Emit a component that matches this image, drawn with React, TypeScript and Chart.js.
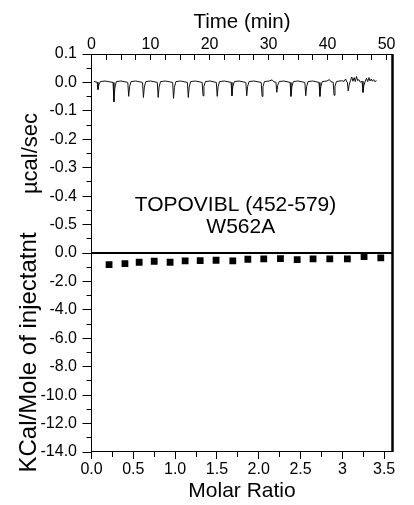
import React, { useEffect, useRef } from 'react';
import { Chart, registerables } from 'chart.js';

Chart.register(...registerables);

// Upper panel: raw thermogram, [time (min), µcal/sec]
const rawTrace: [number, number][] = [
  [0.4, 0.003], [0.95, 0.001], [1.1, -0.025], [1.25, -0.008], [1.5, 0.003], [2.3, 0.005],
  [3.65, 0.0], [3.8, -0.068], [3.95, -0.02], [4.2, 0.003], [5.0, 0.005],
  [6.15, 0.0], [6.3, -0.049], [6.45, -0.015], [6.7, 0.003], [7.5, 0.005],
  [8.65, 0.0], [8.8, -0.053], [8.95, -0.016], [9.2, 0.003], [10.0, 0.005],
  [11.15, 0.0], [11.3, -0.053], [11.45, -0.016], [11.7, 0.003], [12.5, 0.005],
  [13.75, 0.0], [13.9, -0.056], [14.05, -0.017], [14.3, 0.003], [15.1, 0.005],
  [16.25, 0.0], [16.4, -0.053], [16.55, -0.016], [16.8, 0.003], [17.6, 0.005],
  [18.75, 0.0], [18.9, -0.047], [19.05, -0.014], [19.3, 0.003], [20.1, 0.005],
  [21.15, 0.0], [21.3, -0.049], [21.45, -0.015], [21.7, 0.003], [22.5, 0.005],
  [23.65, 0.0], [23.8, -0.047], [23.95, -0.014], [24.2, 0.003], [25.0, 0.005],
  [26.15, 0.0], [26.3, -0.047], [26.45, -0.014], [26.7, 0.003], [27.5, 0.005],
  [28.75, 0.0], [28.9, -0.049], [29.05, -0.015], [29.3, 0.003], [30.1, 0.005],
  [30.6, 0.009], [30.9, 0.002],
  [31.25, 0.001], [31.4, -0.035], [31.55, -0.01], [31.8, 0.003], [32.6, 0.005],
  [33.65, 0.0], [33.8, -0.049], [33.95, -0.015], [34.2, 0.003], [35.0, 0.005],
  [36.15, 0.0], [36.3, -0.047], [36.45, -0.014], [36.7, 0.003], [37.5, 0.005],
  [38.55, 0.0], [38.7, -0.049], [38.85, -0.015], [39.1, 0.003], [39.9, 0.005],
  [40.3, 0.01], [40.6, 0.002],
  [40.95, 0.001], [41.1, -0.045], [41.25, -0.013], [41.5, 0.003], [42.3, 0.006],
  [42.8, 0.004], [43.05, 0.012], [43.25, 0.002],
  [43.35, 0.001], [43.5, -0.03], [43.65, -0.009], [43.9, 0.008], [44.1, 0.019], [44.3, 0.004],
  [44.5, 0.017], [44.7, 0.003], [44.9, 0.021], [45.1, 0.006], [45.3, 0.01], [45.55, 0.001], [45.85, 0.004],
  [46.0, -0.035], [46.15, -0.011], [46.4, 0.005], [46.6, 0.015], [46.8, 0.003], [47.0, 0.017],
  [47.2, 0.005], [47.4, 0.012], [47.6, 0.004], [47.8, 0.01], [48.0, 0.003], [48.3, 0.006],
];

// Lower panel: integrated heats
const molarRatio = [0.21, 0.4, 0.57, 0.75, 0.94, 1.12, 1.3, 1.49, 1.69, 1.87, 2.06, 2.26, 2.46, 2.65, 2.85, 3.06, 3.26, 3.46];
const kcalPerMole = [-0.82, -0.75, -0.65, -0.58, -0.65, -0.56, -0.53, -0.51, -0.56, -0.44, -0.42, -0.39, -0.46, -0.42, -0.42, -0.42, -0.25, -0.35];

// Tick labels
const timeTickValues = [0, 10, 20, 30, 40, 50];
const timeTickLabels = ['0', '10', '20', '30', '40', '50'];
const ratioTickValues = [0, 0.5, 1, 1.5, 2, 2.5, 3, 3.5];
const ratioTickLabels = ['0.0', '0.5', '1.0', '1.5', '2.0', '2.5', '3', '3.5'];
const rawTickValues = [0.1, 0, -0.1, -0.2, -0.3, -0.4, -0.5];
const rawTickLabels = ['0.1', '0.0', '-0.1', '-0.2', '-0.3', '-0.4', '-0.5'];
const kcalTickValues = [0, -2, -4, -6, -8, -10, -12, -14];
const kcalTickLabels = ['0.0', '-2.0', '-4.0', '-6.0', '-8.0', '-10.0', '-12.0', '-14.0'];

const annotationLines = ['TOPOVIBL (452-579)', 'W562A'];

const FONT = "'Liberation Sans', Arial, Helvetica, sans-serif";

function labelFor(values: number[], labels: string[], v: number): string {
  const i = values.findIndex((t) => Math.abs(t - v) < 1e-6);
  return i >= 0 ? labels[i] : '';
}

function isMultiple(v: number, step: number): boolean {
  const r = v / step;
  return Math.abs(r - Math.round(r)) < 1e-6;
}

const framePlugin = {
  id: 'itcFrame',
  afterDraw(chart: any) {
    const { ctx, chartArea: a, scales } = chart;
    const L = a.left, R = a.right, T = a.top, B = a.bottom;
    const seg = (x1: number, y1: number, x2: number, y2: number, w = 1) => {
      ctx.lineWidth = w;
      ctx.beginPath();
      ctx.moveTo(x1, y1);
      ctx.lineTo(x2, y2);
      ctx.stroke();
    };
    const snap = (p: number) => Math.floor(p) + 0.5;
    ctx.save();
    ctx.strokeStyle = '#000';
    ctx.lineCap = 'butt';

    // frame lines
    seg(snap(L), T, snap(L), B);
    seg(L, snap(T), R, snap(T));
    seg(L, B - 0.5, R, B - 0.5);

    // y ticks (outside, left)
    const yRaw = scales.yRaw;
    yRaw.ticks.forEach((t: any) => {
      const y = snap(yRaw.getPixelForValue(t.value));
      const len = isMultiple(t.value, 0.1) ? 9 : 5;
      seg(L - len, y, L, y);
    });
    const yKcal = scales.yKcal;
    yKcal.ticks.forEach((t: any) => {
      const y = snap(yKcal.getPixelForValue(t.value));
      const len = isMultiple(t.value, 2) ? 9 : 5;
      seg(L - len, y, L, y);
    });
    // top time ticks (inside, pointing down)
    const xTime = scales.xTime;
    xTime.ticks.forEach((t: any) => {
      const x = snap(xTime.getPixelForValue(t.value));
      seg(x, T, x, T + 6);
    });
    // bottom ratio ticks (outside)
    const xRatio = scales.xRatio;
    xRatio.ticks.forEach((t: any) => {
      const x = snap(xRatio.getPixelForValue(t.value));
      const len = isMultiple(t.value, 0.5) ? 7 : 5;
      seg(x, B, x, B + len);
    });

    // zero line of the lower panel
    const y0 = yKcal.getPixelForValue(0);
    seg(L, y0, R, y0, 2);
    // thick right border
    seg(R, T, R, B, 2.5);

    // annotation
    ctx.fillStyle = '#000';
    ctx.font = `21px ${FONT}`;
    ctx.textAlign = 'center';
    ctx.textBaseline = 'alphabetic';
    ctx.fillText(annotationLines[0], L + 144, T + 157);
    ctx.fillText(annotationLines[1], L + 149.3, T + 178.5);
    ctx.restore();
  },
};

export default function App() {
  const canvasRef = useRef<HTMLCanvasElement | null>(null);

  useEffect(() => {
    if (!canvasRef.current) return;
    Chart.defaults.font.family = FONT;
    Chart.defaults.color = '#000';

    const tickFont = { size: 16, family: FONT };
    const noGrid = { display: false, drawTicks: false };

    const chart = new Chart(canvasRef.current, {
      type: 'scatter',
      data: {
        datasets: [
          {
            label: 'raw',
            data: rawTrace.map(([x, y]) => ({ x, y })),
            xAxisID: 'xTime',
            yAxisID: 'yRaw',
            showLine: true,
            borderColor: '#111',
            borderWidth: 1,
            pointRadius: 0,
            tension: 0,
            fill: false,
          } as any,
          {
            label: 'heats',
            data: molarRatio.map((x, i) => ({ x, y: kcalPerMole[i] })),
            xAxisID: 'xRatio',
            yAxisID: 'yKcal',
            showLine: false,
            pointStyle: 'rect',
            pointRadius: 4.8,
            backgroundColor: '#000',
            borderWidth: 0,
          } as any,
        ],
      },
      options: {
        animation: false,
        responsive: false,
        events: [],
        layout: { padding: { left: 0, top: 0, right: 21.5, bottom: 0 } },
        plugins: { legend: { display: false }, tooltip: { enabled: false } },
        scales: {
          xTime: {
            type: 'linear',
            position: 'top',
            min: 0,
            max: 51,
            afterFit: (s: any) => { s.height = 54; },
            grid: noGrid,
            border: { display: false },
            ticks: {
              stepSize: 2.5,
              includeBounds: false,
              autoSkip: false,
              maxRotation: 0,
              padding: 0,
              font: tickFont,
              callback: (v: any) => labelFor(timeTickValues, timeTickLabels, Number(v)),
            },
            title: { display: true, text: 'Time (min)', font: { size: 20.5, family: FONT }, padding: { top: 10.4, bottom: 0 } },
          },
          xRatio: {
            type: 'linear',
            position: 'bottom',
            min: 0,
            max: 3.6,
            afterFit: (s: any) => { s.height = 53; },
            grid: noGrid,
            border: { display: false },
            ticks: {
              stepSize: 0.25,
              includeBounds: false,
              autoSkip: false,
              maxRotation: 0,
              padding: 8,
              font: tickFont,
              callback: (v: any) => labelFor(ratioTickValues, ratioTickLabels, Number(v)),
            },
            title: { display: true, text: 'Molar Ratio', font: { size: 21, family: FONT }, padding: { top: 0, bottom: 1.2 } },
          },
          yRaw: {
            type: 'linear',
            position: 'left',
            stack: 'panels',
            stackWeight: 1,
            weight: 2,
            min: -0.6,
            max: 0.1,
            afterFit: (s: any) => { s.width = 91.5; },
            grid: noGrid,
            border: { display: false },
            ticks: {
              stepSize: 0.05,
              autoSkip: false,
              padding: 14.5,
              font: tickFont,
              callback: (v: any) => labelFor(rawTickValues, rawTickLabels, Number(v)),
            },
            title: { display: true, text: 'µcal/sec', font: { size: 22, family: FONT }, padding: { top: 18, bottom: 0 } },
          },
          yKcal: {
            type: 'linear',
            position: 'left',
            stack: 'panels',
            stackWeight: 1,
            weight: 1,
            min: -14,
            max: 0,
            afterFit: (s: any) => { s.width = 91.5; },
            grid: noGrid,
            border: { display: false },
            ticks: {
              stepSize: 1,
              autoSkip: false,
              padding: 14.5,
              font: tickFont,
              callback: (v: any) => labelFor(kcalTickValues, kcalTickLabels, Number(v)),
            },
            title: { display: true, text: 'KCal/Mole of injectatnt', font: { size: 24, family: FONT }, padding: { top: 15, bottom: 0 } },
          },
        } as any,
      },
      plugins: [framePlugin],
    });

    return () => chart.destroy();
  }, []);

  return (
    <div style={{ position: 'absolute', left: 0, top: 0, width: 414, height: 505, background: '#fff' }}>
      <canvas ref={canvasRef} width={414} height={505} style={{ display: 'block' }} />
    </div>
  );
}
